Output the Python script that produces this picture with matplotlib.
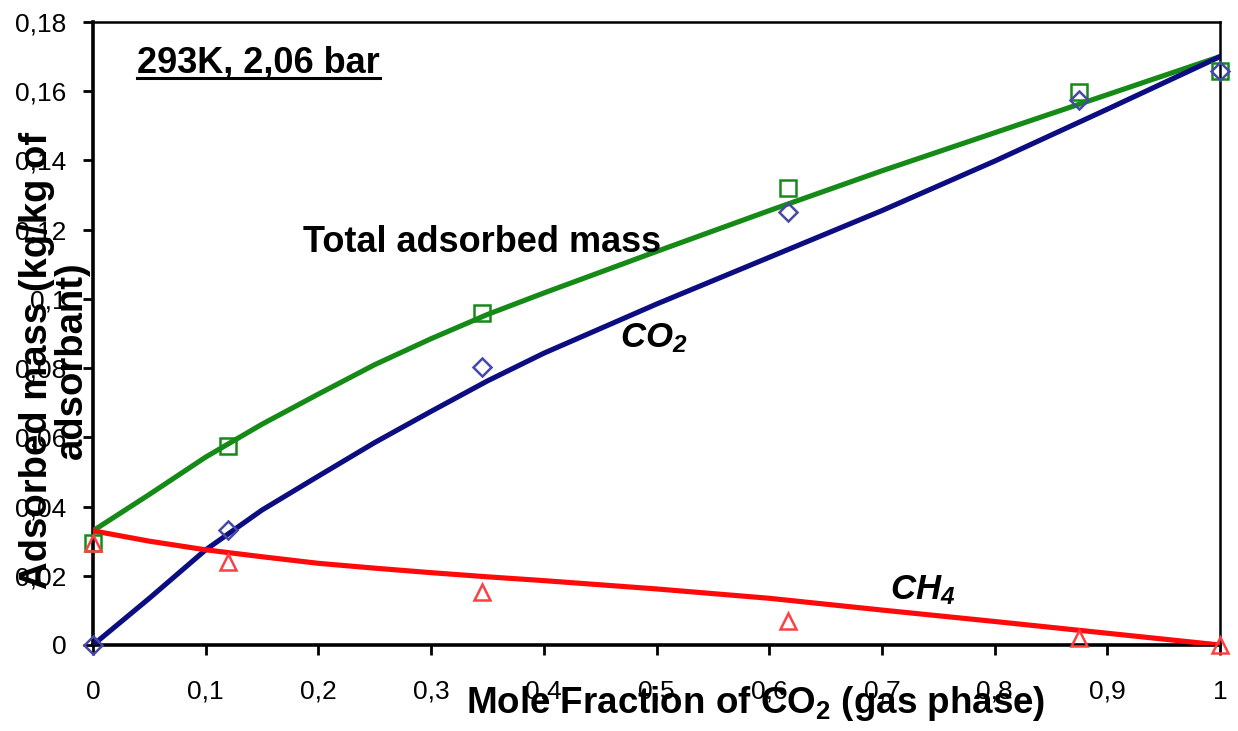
import matplotlib
matplotlib.use("Agg")
import matplotlib.pyplot as plt
from matplotlib.ticker import FuncFormatter, MultipleLocator
from matplotlib.lines import Line2D

plt.rcParams["font.family"] = ["Liberation Sans", "DejaVu Sans"]
plt.rcParams["mathtext.fontset"] = "custom"
plt.rcParams["mathtext.rm"] = "Liberation Sans"
plt.rcParams["mathtext.bf"] = "Liberation Sans:bold"
plt.rcParams["mathtext.it"] = "Liberation Sans:italic"
plt.rcParams["mathtext.bfit"] = "Liberation Sans:bold:italic"

# experimental points
x_meas = [0.0, 0.12, 0.345, 0.617, 0.875, 1.0]
total_meas = [0.0295, 0.0575, 0.0959, 0.132, 0.1597, 0.1657]
co2_meas = [0.0, 0.0332, 0.0803, 0.125, 0.1575, 0.1657]
ch4_meas = [0.0295, 0.024, 0.0153, 0.0069, 0.002, 0.0]

# model curves
x_model = [0.0, 0.05, 0.1, 0.15, 0.2, 0.25, 0.3, 0.35, 0.4, 0.5, 0.6, 0.7, 0.8, 0.9, 1.0]
total_model = [0.033, 0.0435, 0.0543, 0.0638, 0.0725, 0.081, 0.0885, 0.0955,
               0.1017, 0.1137, 0.1255, 0.137, 0.148, 0.159, 0.170]
co2_model = [0.0, 0.0135, 0.0275, 0.039, 0.0488, 0.0585, 0.0675, 0.0763,
             0.0843, 0.0985, 0.112, 0.1255, 0.1398, 0.1548, 0.170]
ch4_model = [0.033, 0.030, 0.0275, 0.0255, 0.0236, 0.0222, 0.0209, 0.0197,
             0.0186, 0.0162, 0.0135, 0.0101, 0.0068, 0.0034, 0.0]

green = "#168a16"
navy = "#0d0d82"
red = "#ff0a0a"

fig = plt.figure(figsize=(12.38, 7.31), dpi=100)
ax = fig.add_axes([93 / 1238, 86 / 731, 1127 / 1238, 623 / 731])

ax.plot(x_model, total_model, color=green, lw=3.7, zorder=3)
ax.plot(x_model, co2_model, color=navy, lw=3.7, zorder=3)
ax.plot(x_model, ch4_model, color=red, lw=3.7, zorder=3)

ax.plot(x_meas, total_meas, ls="none", marker="s", ms=11.5, mfc="none",
        mec=green, mew=1.8, clip_on=False, zorder=4)
ax.plot(x_meas, co2_meas, ls="none", marker="D", ms=9, mfc="none",
        mec="#4848a8", mew=1.8, clip_on=False, zorder=4)
ax.plot(x_meas, ch4_meas, ls="none", marker="^", ms=11.5, mfc="none",
        mec="#ff4040", mew=1.8, clip_on=False, zorder=4)

ax.set_xlim(0, 1)
ax.set_ylim(0, 0.18)
ax.xaxis.set_major_locator(MultipleLocator(0.1))
ax.yaxis.set_major_locator(MultipleLocator(0.02))
fmt = FuncFormatter(lambda v, p: f"{round(v, 4):g}".replace(".", ","))
ax.xaxis.set_major_formatter(fmt)
ax.yaxis.set_major_formatter(fmt)
ax.tick_params(axis="both", direction="out", length=7, width=2, labelsize=19)
ax.tick_params(axis="x", pad=18)
ax.tick_params(axis="y", pad=12)

for side in ["left", "bottom"]:
    ax.spines[side].set_linewidth(2.6)
for side in ["top", "right"]:
    ax.spines[side].set_linewidth(1.8)

ax.set_xlabel(r"Mole Fraction of CO$_{\mathbf{2}}$ (gas phase)",
              fontsize=26.5, fontweight="bold")
ax.xaxis.label.set_va("baseline")
ax.xaxis.set_label_coords(0.588, -0.109)

ax.set_ylabel("Adsorbed mass (kg/kg of\nadsorbant)", fontsize=27.5,
              fontweight="bold", linespacing=0.95)
ax.yaxis.label.set_va("center")
ax.yaxis.set_label_coords(-0.034, 0.4575)

ax.text(0.1863, 0.1135, "Total adsorbed mass", fontsize=26,
        fontweight="bold", va="baseline")
ax.text(0.4676, 0.0861, r"CO$_{\mathbfit{2}}$", fontsize=25, fontweight="bold",
        style="italic", va="baseline")
ax.text(0.707, 0.0133, r"CH$_{\mathbfit{4}}$", fontsize=25, fontweight="bold",
        style="italic", va="baseline")

title = ax.text(0.039, 0.1653, "293K, 2,06 bar", fontsize=26,
                fontweight="bold", va="baseline")

# underline the condition label
fig.canvas.draw()
bb = title.get_window_extent().transformed(ax.transData.inverted())
ax.add_line(Line2D([bb.x0, bb.x1], [0.1638, 0.1638], color="black",
                   lw=2.2, clip_on=False))

fig.savefig("out.png", dpi=100)
